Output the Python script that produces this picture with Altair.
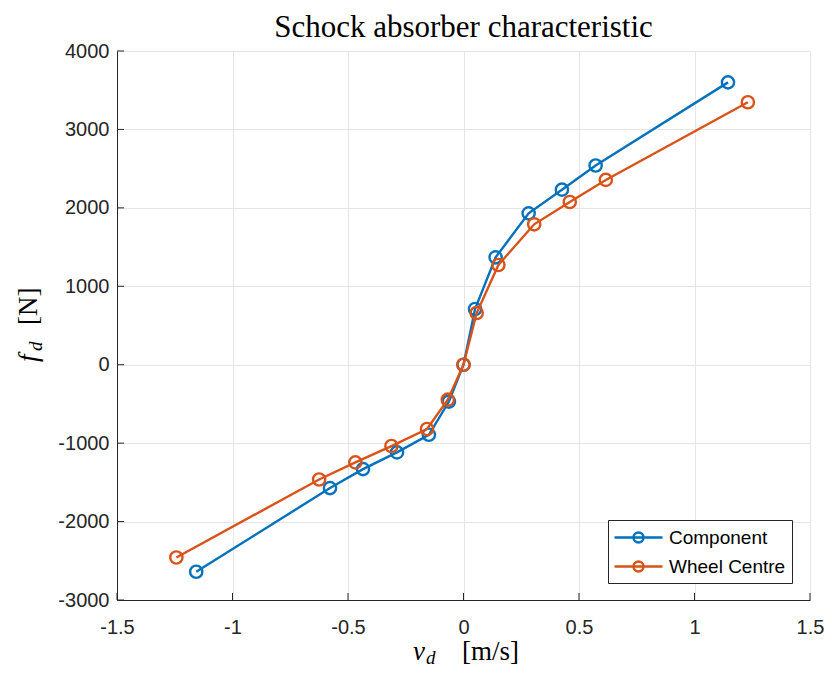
import altair as alt
import pandas as pd

# ---------------- data ----------------
series_names = ["Component", "Wheel Centre"]
series_colors = ["#0072BD", "#D95319"]

comp_v = [-1.157, -0.578, -0.435, -0.288, -0.150, -0.063, 0.0, 0.050, 0.139, 0.282, 0.426, 0.572, 1.145]
comp_f = [-2640, -1573, -1331, -1118, -893, -470, 0, 710, 1369, 1930, 2232, 2540, 3600]

wheel_v = [-1.243, -0.625, -0.468, -0.312, -0.158, -0.068, 0.0, 0.057, 0.151, 0.306, 0.460, 0.616, 1.231]
wheel_f = [-2458, -1463, -1246, -1037, -820, -446, 0, 659, 1272, 1790, 2075, 2356, 3346]

x_ticks = [-1.5, -1, -0.5, 0, 0.5, 1, 1.5]
y_ticks = [-3000, -2000, -1000, 0, 1000, 2000, 3000, 4000]

title_text = "Schock absorber characteristic"
xlabel_var, xlabel_sub, xlabel_unit = "v", "d", "[m/s]"
ylabel_var, ylabel_sub, ylabel_unit = "f", "d", "[N]"

# ---------------- layout / style ----------------
W, H = 693, 549
SERIF = "Liberation Serif"
SANS = "Liberation Sans"
AX = "#262626"
GRID = "#e5e5e5"
LW = 2.4

df = pd.concat([
    pd.DataFrame({"v": comp_v, "f": comp_f, "series": series_names[0], "i": range(len(comp_v))}),
    pd.DataFrame({"v": wheel_v, "f": wheel_f, "series": series_names[1], "i": range(len(wheel_v))}),
], ignore_index=True)

xs = alt.Scale(domain=[-1.5, 1.5], nice=False, zero=False)
ys = alt.Scale(domain=[-3000, 4000], nice=False, zero=False)
cs = alt.Scale(domain=series_names, range=series_colors)

xaxis = alt.Axis(values=x_ticks, title=None, grid=True, ticks=False, tickSize=0,
                 labelExpr="toString(datum.value)", labelPadding=17, labelFontSize=20,
                 labelFont=SANS, labelColor=AX, domainColor=AX, domainWidth=1,
                 gridColor=GRID, gridWidth=1, labelFlush=False, labelOverlap=False)
yaxis = alt.Axis(values=y_ticks, title=None, grid=True, ticks=False, tickSize=0,
                 labelExpr="toString(datum.value)", labelPadding=8, labelFontSize=20,
                 labelFont=SANS, labelColor=AX, domainColor=AX, domainWidth=1,
                 gridColor=GRID, gridWidth=1, labelFlush=False, labelOverlap=False)

legend_symbol = "M-2.4,0L2.4,0M0.5,0A0.5,0.5,0,1,1,-0.5,0A0.5,0.5,0,1,1,0.5,0Z"
legend = alt.Legend(title=None, orient="none", legendX=491, legendY=469, direction="vertical",
                    symbolType=legend_symbol, symbolSize=400, symbolStrokeWidth=LW,
                    symbolOffset=13, labelOffset=19, padding=6, rowPadding=7,
                    strokeColor=AX, fillColor="white", labelFont=SANS, labelFontSize=19,
                    labelColor="black", cornerRadius=0)

X = alt.X("v:Q", scale=xs, axis=xaxis)
Y = alt.Y("f:Q", scale=ys, axis=yaxis)

layers = []

# inward tick marks
xt = pd.DataFrame({"v": x_ticks})
yt = pd.DataFrame({"f": y_ticks})
layers.append(alt.Chart(xt).mark_rule(color=AX, strokeWidth=1).encode(
    x=X, y=alt.value(H), y2=alt.value(H - 7)))
layers.append(alt.Chart(yt).mark_rule(color=AX, strokeWidth=1).encode(
    y=Y, x=alt.value(0), x2=alt.value(7)))

for name, color in zip(series_names, series_colors):
    d = df[df["series"] == name]
    layers.append(alt.Chart(d).mark_line(color=color, strokeWidth=LW).encode(
        x=X, y=Y, order="i:Q"))
    layers.append(alt.Chart(d).mark_point(filled=False, size=150, strokeWidth=LW, opacity=1).encode(
        x=X, y=Y, color=alt.Color("series:N", scale=cs, legend=legend)))

one = pd.DataFrame({"a": [0]})

def txt(text, x, y, size, italic=False, angle=0, align="left", font=SERIF):
    kw = dict(text=text, font=font, fontSize=size, color="black", align=align,
              baseline="alphabetic", angle=angle)
    if italic:
        kw["fontStyle"] = "italic"
    return alt.Chart(one).mark_text(**kw).encode(x=alt.value(x), y=alt.value(y))

# title
layers.append(txt(title_text, W / 2, -14, 31, align="center"))
# x label
layers.append(txt(xlabel_var, 296, 609, 27, italic=True))
layers.append(txt(xlabel_sub, 309, 613, 19, italic=True))
layers.append(txt(xlabel_unit, 345, 609, 27))
# y label (rotated)
layers.append(txt(ylabel_var, -80, 311, 27, italic=True, angle=270))
layers.append(txt(ylabel_sub, -75, 300, 19, italic=True, angle=270))
layers.append(txt(ylabel_unit, -80, 274, 27, angle=270))

chart = alt.layer(*layers).properties(
    width=W, height=H,
    autosize="none",
    padding={"left": 109, "top": 43, "right": 14, "bottom": 67},
).configure_view(stroke=None)

chart.save("out.html", embed_options={"renderer": "svg", "actions": False})
